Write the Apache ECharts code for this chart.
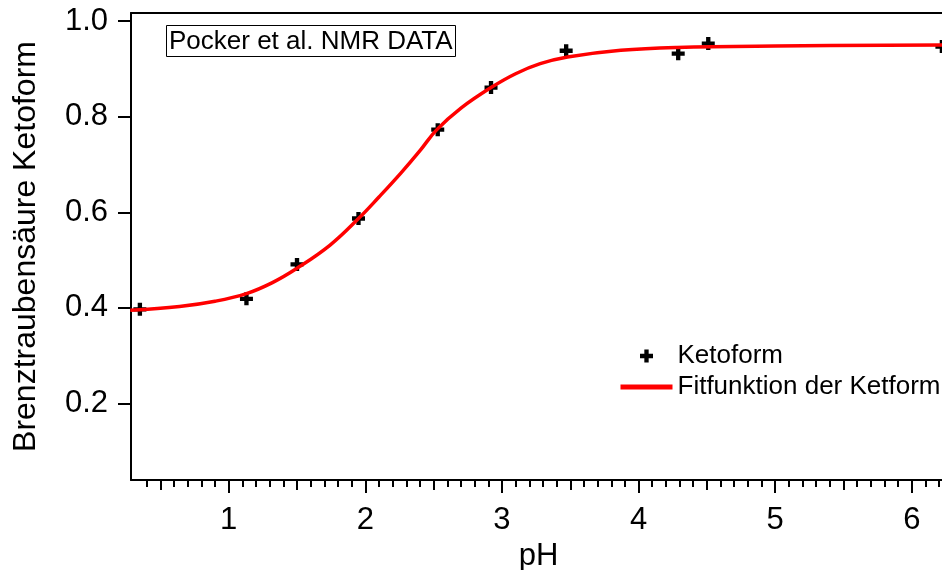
<!DOCTYPE html>
<html>
<head>
<meta charset="utf-8">
<script src="https://cdn.jsdelivr.net/npm/echarts@6/dist/echarts.min.js"></script>
<style>
  html, body { margin: 0; padding: 0; background: #fff; }
  #main { width: 942px; height: 570px; }
</style>
</head>
<body>
<div id="main"></div>
<script>
// Messpunkte (pH, Anteil Ketoform)
var pointPH   = [0.35, 1.13, 1.50, 1.95, 2.53, 2.92, 3.47, 4.29, 4.51, 6.22];
var pointKeto = [0.397, 0.419, 0.491, 0.587, 0.773, 0.861, 0.938, 0.932, 0.953, 0.947];

// Fitkurve
var fitPH   = [0.28, 0.64, 0.90, 1.13, 1.32, 1.50, 1.74, 1.95, 2.10, 2.26, 2.40, 2.52, 2.70, 2.92, 3.10, 3.28, 3.48, 3.87, 4.28, 5.00, 6.25];
var fitKeto = [0.395, 0.403, 0.414, 0.430, 0.453, 0.483, 0.531, 0.587, 0.632, 0.682, 0.729, 0.772, 0.818, 0.861, 0.890, 0.911, 0.925, 0.939, 0.945, 0.948, 0.950];

var xMajorTicks = [1, 2, 3, 4, 5, 6];
var yTicks = [0.2, 0.4, 0.6, 0.8, 1.0];

var xHalfTicks = [];
var xMinorTicks = [];
for (var i = 4; i <= 62; i++) {
    if (i % 5 === 0) {
        if (i % 10 !== 0) xHalfTicks.push(i / 10);
    } else {
        xMinorTicks.push(i / 10);
    }
}

var font = 'Liberation Sans, Arial, sans-serif';
var xMin = 0.285, xMax = 6.25, yMin = 0.04, yMax = 1.017;
var gridPos = { left: 131, top: 13, bottom: 90, right: -4, containLabel: false, outerBoundsMode: 'none' };

function zip(a, b) {
    var res = [];
    for (var i = 0; i < a.length; i++) res.push([a[i], b[i]]);
    return res;
}

var myChart = echarts.init(document.getElementById('main'));

var option = {
    backgroundColor: '#ffffff',
    animation: false,
    title: {
        text: 'Pocker et al. NMR DATA',
        left: 166,
        top: 25,
        borderWidth: 1,
        borderColor: '#000',
        padding: [4, 3, 2, 3],
        textStyle: { fontFamily: font, fontSize: 26, fontWeight: 'normal', color: '#000' }
    },
    legend: {
        orient: 'vertical',
        left: 618,
        top: 343,
        padding: 0,
        itemWidth: 52,
        itemHeight: 13,
        itemGap: 5,
        textStyle: { fontFamily: font, fontSize: 26, color: '#000' },
        data: [
            { name: 'Ketoform', itemStyle: { color: '#000', opacity: 1 } },
            { name: 'Fitfunktion der Ketform', lineStyle: { width: 5 }, itemStyle: { opacity: 0 } }
        ]
    },
    grid: [
        Object.assign({}, gridPos),
        Object.assign({}, gridPos),
        Object.assign({}, gridPos)
    ],
    xAxis: [
        {
            type: 'value', gridIndex: 0, position: 'bottom', min: xMin, max: xMax,
            name: 'pH', nameLocation: 'middle', nameGap: 47,
            nameTextStyle: { fontFamily: font, fontSize: 31, color: '#000' },
            axisLine: { lineStyle: { color: '#000', width: 2 } },
            axisTick: { inside: false, length: 13, lineStyle: { color: '#000', width: 2 }, customValues: xMajorTicks },
            axisLabel: { customValues: xMajorTicks, margin: 25, fontFamily: font, fontSize: 31, color: '#000' },
            splitLine: { show: false }
        },
        {
            type: 'value', gridIndex: 0, position: 'top', min: xMin, max: xMax,
            axisLine: { lineStyle: { color: '#000', width: 2 } },
            axisTick: { show: false }, axisLabel: { show: false }, splitLine: { show: false }
        },
        {
            type: 'value', gridIndex: 1, position: 'bottom', min: xMin, max: xMax,
            axisLine: { show: false },
            axisTick: { length: 10, lineStyle: { color: '#000', width: 2 }, customValues: xHalfTicks },
            axisLabel: { show: false }, splitLine: { show: false }
        },
        {
            type: 'value', gridIndex: 2, position: 'bottom', min: xMin, max: xMax,
            axisLine: { show: false },
            axisTick: { length: 7, lineStyle: { color: '#000', width: 2 }, customValues: xMinorTicks },
            axisLabel: { show: false }, splitLine: { show: false }
        }
    ],
    yAxis: [
        {
            type: 'value', gridIndex: 0, min: yMin, max: yMax,
            name: 'Brenztraubensäure Ketoform', nameLocation: 'middle', nameGap: 89,
            nameTextStyle: { fontFamily: font, fontSize: 32, color: '#000' },
            axisLine: { show: true, lineStyle: { color: '#000', width: 2 } },
            axisTick: { show: true, length: 13, lineStyle: { color: '#000', width: 2 }, customValues: yTicks },
            axisLabel: {
                customValues: yTicks, margin: 23, fontFamily: font, fontSize: 31, color: '#000',
                formatter: function (v) { return v.toFixed(1); }
            },
            splitLine: { show: false }
        },
        { type: 'value', gridIndex: 1, min: yMin, max: yMax, show: false },
        { type: 'value', gridIndex: 2, min: yMin, max: yMax, show: false }
    ],
    series: [
        {
            name: 'Ketoform',
            type: 'scatter',
            xAxisIndex: 0, yAxisIndex: 0,
            symbol: 'path://M4,0H8V4H12V8H8V12H4V8H0V4H4Z',
            symbolSize: 13,
            itemStyle: { color: '#000', opacity: 1 },
            data: zip(pointPH, pointKeto),
            z: 2
        },
        {
            name: 'Fitfunktion der Ketform',
            type: 'line',
            xAxisIndex: 0, yAxisIndex: 0,
            smooth: 0.4,
            showSymbol: false,
            symbol: 'none',
            lineStyle: { color: '#ff0000', width: 3.5 },
            itemStyle: { color: '#ff0000' },
            data: zip(fitPH, fitKeto),
            z: 3
        }
    ]
};

myChart.setOption(option);
</script>
</body>
</html>
